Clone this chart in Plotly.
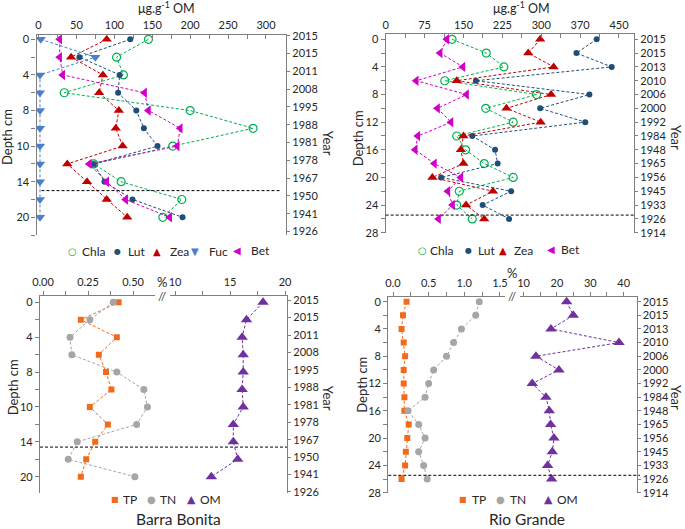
import plotly.graph_objects as go

W, H = 685, 529
FONT = "Lato"
AX = "#7f7f7f"
TXT = "#262626"

# ---------------- DATA ----------------
# Barra Bonita: samples plotted on an evenly spaced depth axis
bb_rows = [0, 2, 4, 6, 8, 10, 12, 14, 16, 18, 20]
bb_depth_tick_pos = [0, 4, 8, 12, 16, 20]
bb_depth_labels = ["0", "4", "8", "10", "14", "20"]
bb_years = ["2015", "2015", "2011", "2008", "1995", "1988", "1981", "1978",
            "1967", "1950", "1941", "1926"]
bb_chla = [145, 103, 112, 34, 200, 283, 177, 73, 109, 189, 164]
bb_lut = [121, 54, 107, 105, 129, 139, 157, 73, 87, 124, 190]
bb_zea = [90, 43, 85, 80, 106, 102, 111, 38, 64, 90, 117]
bb_fuc = [3, 75, 2, 2, 2, 2, 2, 2, 2, 2, 2]
bb_bet = [28, 28, 32, 140, 145, 187, 183, 67, 90, 115, 173]
bb_tp = [0.42, 0.21, 0.41, 0.31, 0.35, 0.38, 0.26, 0.36, 0.29, 0.24, 0.21]
bb_tn = [0.39, 0.26, 0.15, 0.16, 0.41, 0.56, 0.58, 0.52, 0.19, 0.14, 0.51]
bb_om = [18.0, 16.5, 16.1, 16.2, 16.2, 16.1, 16.2, 15.3, 15.3, 15.7, 13.3]
bb_limit_pig = 17.0
bb_limit_nut = 16.6

# Rio Grande
rg_depth = [0, 2, 4, 6, 8, 10, 12, 14, 16, 18, 20, 22, 24, 26]
rg_years = ["2015", "2015", "2013", "2010", "2006", "2000", "1992", "1984",
            "1948", "1965", "1956", "1945", "1933", "1926", "1914"]
rg_chla = [128, 194, 228, 114, 291, 193, 246, 137, 154, 190, 246, 142, 137, 167]
rg_lut = [407, 368, 436, 174, 393, 298, 385, 167, 211, 216, 107, 242, 187, 238]
rg_zea = [298, 275, 324, 137, 319, 233, 299, 150, 145, 150, 90, 207, 155, 190]
rg_bet = [118, 105, 149, 59, 156, 100, 126, 62, 57, 94, 145, 120, 129, 102]
rg_tp = [0.19, 0.14, 0.12, 0.15, 0.17, 0.15, 0.15, 0.16, 0.16, 0.22, 0.20, 0.18, 0.17, 0.12]
rg_tn = [1.21, 1.16, 0.96, 0.85, 0.75, 0.57, 0.50, 0.45, 0.21, 0.36, 0.45, 0.36, 0.43, 0.48]
rg_om = [22.9, 24.9, 18.2, 38.6, 13.7, 20.6, 12.6, 16.7, 17.7, 18.1, 19.1, 18.6, 17.2, 18.4]
rg_limit = 25.45

pig_ticks_bb = [0, 50, 100, 150, 200, 250, 300]
pig_ticks_rg = [0, 75, 150, 225, 300, 375, 450]
pig_labels_rg = ["0", "75", "150", "225", "300", "370", "450"]

# ---------------- STYLES ----------------
C_CHLA, C_LUT, C_ZEA, C_FUC, C_BET = "#00b050", "#1f4e79", "#c00000", "#4a7fd0", "#d000c8"
C_TP, C_TN, C_OM = "#f26a1b", "#a6a6a6", "#7030a0"
DASH = "3px,2px"


def dx(a, b):
    return [a / W, b / W]


def dy(top, bottom):
    return [1 - bottom / H, 1 - top / H]


fig = go.Figure()


def series(x, y, xa, ya, color, symbol, size, open_=False):
    marker = dict(symbol=symbol, size=size, color=color)
    if open_:
        marker = dict(symbol="circle-open", size=size, color=color, line=dict(width=1.2, color=color))
    fig.add_trace(go.Scatter(x=x, y=y, xaxis=xa, yaxis=ya, mode="lines+markers",
                             line=dict(color=color, width=1, dash=DASH),
                             marker=marker, showlegend=False, hoverinfo="skip"))


# Panel A: Barra Bonita pigments
series(bb_chla, bb_rows, "x", "y", C_CHLA, "circle", 8, open_=True)
series(bb_lut, bb_rows, "x", "y", C_LUT, "circle", 6)
series(bb_zea, bb_rows, "x", "y", C_ZEA, "triangle-up", 9)
series(bb_fuc, bb_rows, "x", "y", C_FUC, "triangle-down", 9)
series(bb_bet, bb_rows, "x", "y", C_BET, "triangle-left", 9)

# Panel B: Rio Grande pigments
series(rg_chla, rg_depth, "x2", "y3", C_CHLA, "circle", 8, open_=True)
series(rg_lut, rg_depth, "x2", "y3", C_LUT, "circle", 6)
series(rg_zea, rg_depth, "x2", "y3", C_ZEA, "triangle-up", 9)
series(rg_bet, rg_depth, "x2", "y3", C_BET, "triangle-left", 9)

# Panel C: Barra Bonita nutrients
series(bb_tp, bb_rows, "x3", "y5", C_TP, "square", 6)
series(bb_tn, bb_rows, "x3", "y5", C_TN, "circle", 7)
series(bb_om, bb_rows, "x4", "y5", C_OM, "triangle-up", 10)

# Panel D: Rio Grande nutrients
series(rg_tp, rg_depth, "x5", "y7", C_TP, "square", 6)
series(rg_tn, rg_depth, "x5", "y7", C_TN, "circle", 7)
series(rg_om, rg_depth, "x6", "y7", C_OM, "triangle-up", 10)

# empty traces so that the secondary (Year) axes are drawn
for xa, ya in [("x", "y2"), ("x2", "y4"), ("x4", "y6"), ("x6", "y8")]:
    fig.add_trace(go.Scatter(x=[], y=[], xaxis=xa, yaxis=ya, showlegend=False, hoverinfo="skip"))

tickfont = dict(family=FONT, size=11, color=TXT)
base = dict(showline=True, linecolor=AX, linewidth=1.3, showgrid=False, zeroline=False,
            tickcolor=AX, ticklen=4, tickwidth=1, tickfont=tickfont, automargin=False)

bb_depth_all = list(range(0, 23, 2))
bb_depth_text = [bb_depth_labels[bb_depth_tick_pos.index(v)] if v in bb_depth_tick_pos else "" for v in bb_depth_all]
rg_depth_all = list(range(0, 29, 2))
rg_depth_text = [str(v) if v % 4 == 0 else "" for v in rg_depth_all]

pigA_vals = [25 * i for i in range(13)]
pigA_text = [str(v) if v in pig_ticks_bb else "" for v in pigA_vals]
pigB_vals = [37.5 * i for i in range(13)]
pigB_text = [pig_labels_rg[pig_ticks_rg.index(v)] if v in pig_ticks_rg else "" for v in pigB_vals]

bb_year_pos_A = [-0.4 + 2 * k for k in range(len(bb_years))]
bb_year_pos_C = [-0.25 + 2 * k for k in range(len(bb_years))]
rg_year_pos = [2 * k for k in range(len(rg_years))]

layout_axes = dict(
    # Panel A
    xaxis=dict(base, domain=dx(36.5, 286), range=[-2.6, 326.4], side="top", anchor="y",
               ticks="inside", tickvals=pigA_vals, ticktext=pigA_text),
    yaxis=dict(base, domain=dy(34.9, 235.1), range=[22, -0.5], anchor="x", ticks="outside",
               tickvals=bb_depth_all, ticktext=bb_depth_text),
    yaxis2=dict(base, overlaying="y", side="right", anchor="x", range=[22, -0.5], ticks="outside",
                ticklen=3, tickvals=bb_year_pos_A, ticktext=bb_years),
    # Panel B
    xaxis2=dict(base, domain=dx(385.7, 634), range=[0, 479], side="top", anchor="y3",
                ticks="inside", tickvals=pigB_vals, ticktext=pigB_text),
    yaxis3=dict(base, domain=dy(34.1, 232.7), range=[28, -0.75], anchor="x2", ticks="outside",
                tickvals=rg_depth_all, ticktext=rg_depth_text),
    yaxis4=dict(base, overlaying="y3", side="right", anchor="x2", range=[28, -0.75], ticks="outside",
                ticklen=3, tickvals=rg_year_pos, ticktext=rg_years),
    # Panel C
    xaxis3=dict(base, domain=dx(40, 155), range=[-0.0167, 0.622], side="top", anchor="y5",
                ticks="outside", tickvals=[0, 0.125, 0.25, 0.375, 0.5],
                ticktext=["0.00", "", "0.25", "", "0.50"]),
    xaxis4=dict(base, domain=dx(170, 287), range=[9.545, 20.18], side="top", anchor="y5",
                ticks="outside", tickvals=[10, 12.5, 15, 17.5, 20],
                ticktext=["10", "", "15", "", "20"]),
    yaxis5=dict(base, domain=dy(295.7, 493.3), range=[21.9, -0.76], anchor="x3", ticks="outside",
                tickvals=bb_depth_all, ticktext=bb_depth_text),
    yaxis6=dict(base, overlaying="y5", side="right", anchor="x4", range=[21.9, -0.76], ticks="outside",
                ticklen=3, tickvals=bb_year_pos_C, ticktext=bb_years),
    # Panel D
    xaxis5=dict(base, domain=dx(388.3, 505), range=[-0.066, 1.571], side="top", anchor="y7",
                ticks="outside", tickvals=[0, 0.25, 0.5, 0.75, 1.0, 1.25, 1.5],
                ticktext=["0.0", "", "0.5", "", "1.0", "", "1.5"]),
    xaxis6=dict(base, domain=dx(520, 636.5), range=[8.92, 43.85], side="top", anchor="y7",
                ticks="outside", tickvals=[10, 15, 20, 25, 30, 35, 40],
                ticktext=["10", "", "20", "", "30", "", "40"]),
    yaxis7=dict(base, domain=dy(296.7, 492.7), range=[28, -0.73], anchor="x5", ticks="outside",
                tickvals=rg_depth_all, ticktext=rg_depth_text),
    yaxis8=dict(base, overlaying="y7", side="right", anchor="x6", range=[28, -0.73], ticks="outside",
                ticklen=3, tickvals=rg_year_pos, ticktext=rg_years),
)

shapes = [
    dict(type="line", xref="x domain", yref="y", x0=0.02, x1=0.98, y0=bb_limit_pig, y1=bb_limit_pig,
         line=dict(color="black", width=1, dash=DASH)),
    dict(type="line", xref="x2 domain", yref="y3", x0=0, x1=1, y0=rg_limit, y1=rg_limit,
         line=dict(color="black", width=1, dash=DASH)),
    dict(type="line", xref="paper", yref="y5", x0=40 / W, x1=287 / W, y0=bb_limit_nut, y1=bb_limit_nut,
         line=dict(color="black", width=1, dash=DASH)),
    dict(type="line", xref="paper", yref="y7", x0=388.3 / W, x1=640 / W, y0=rg_limit, y1=rg_limit,
         line=dict(color="black", width=1, dash=DASH)),
]

ann = []


def text(x, y, s, size=12, angle=0, xanchor="center", color=TXT, family=FONT):
    ann.append(dict(x=x / W, y=1 - y / H, xref="paper", yref="paper", text=s, showarrow=False,
                    xanchor=xanchor, yanchor="middle", textangle=angle,
                    font=dict(family=family, size=size, color=color)))


# axis titles
text(166.7, 7, "μg.g<sup>-1</sup> OM", 12.5)
text(521.7, 7, "μg.g<sup>-1</sup> OM", 12.5)
text(162, 282, "%", 13)
text(512, 273, "%", 13)
text(7, 137, "Depth cm", 13, -90)
text(358.3, 138, "Depth cm", 13, -90)
text(13.3, 387, "Depth cm", 13, -90)
text(361.7, 385, "Depth cm", 13, -90)
text(328.3, 143, "Year", 13, 90)
text(676, 137, "Year", 13, 90)
text(328.3, 398, "Year", 13, 90)
text(676, 397, "Year", 13, 90)
text(178, 519, "Barra Bonita", 15.5)
text(526.7, 519, "Rio Grande", 15.5)
# axis break marks
text(162.5, 296, "//", 12, color="#404040")
text(512.5, 296.5, "//", 12, color="#404040")


def legend_item(sx, tx, y, glyph, gsize, color, label):
    text(sx, y, glyph, gsize, color=color, family="DejaVu Sans")
    text(tx, y, label, 12, xanchor="left")


# legends
legend_item(72.3, 80, 251, "○", 10, C_CHLA, "Chla")
legend_item(117.3, 126, 251, "●", 8, C_LUT, "Lut")
legend_item(156.7, 168, 251, "▲", 10, C_ZEA, "Zea")
legend_item(195, 207, 251, "▼", 10, C_FUC, "Fuc")
legend_item(237.3, 249, 250, "◀", 10, C_BET, "Bet")

legend_item(422.3, 428, 250, "○", 10, C_CHLA, "Chla")
legend_item(468.3, 476, 250, "●", 8, C_LUT, "Lut")
legend_item(503.3, 512, 250, "▲", 10, C_ZEA, "Zea")
legend_item(550.7, 559, 249, "◀", 10, C_BET, "Bet")

legend_item(115, 121, 499, "■", 8, C_TP, "TP")
legend_item(151.7, 158, 499, "●", 10, C_TN, "TN")
legend_item(191.7, 198, 499, "▲", 11, C_OM, "OM")

legend_item(463.3, 470, 499, "■", 8, C_TP, "TP")
legend_item(500.7, 508, 499, "●", 10, C_TN, "TN")
legend_item(548.3, 555, 499, "▲", 11, C_OM, "OM")

fig.update_layout(
    width=W, height=H, margin=dict(l=0, r=0, t=0, b=0),
    paper_bgcolor="white", plot_bgcolor="rgba(0,0,0,0)",
    showlegend=False, font=dict(family=FONT, color=TXT),
    shapes=shapes, annotations=ann, **layout_axes,
)

fig.write_html("out.html", config=dict(displayModeBar=False),
               post_script="document.body.style.margin='0';document.body.style.overflow='hidden';")
